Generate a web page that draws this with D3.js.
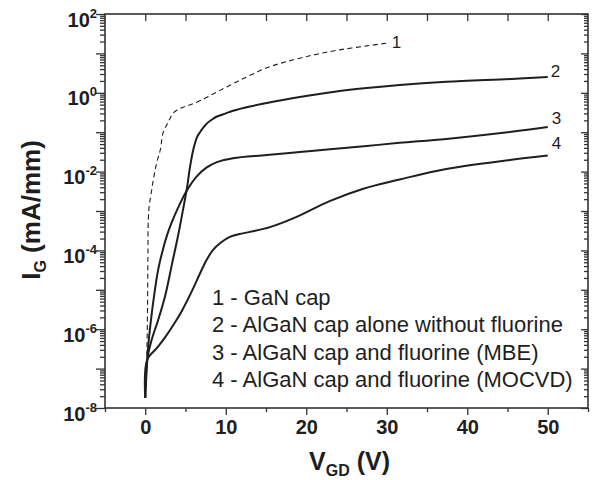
<!DOCTYPE html>
<html>
<head>
<meta charset="utf-8">
<script src="https://cdnjs.cloudflare.com/ajax/libs/d3/7.8.5/d3.min.js"></script>
<style>
body { margin: 0; background: #fff; }
svg { display: block; font-family: "Liberation Sans", Arial, sans-serif; }
</style>
</head>
<body>
<div id="chart"></div>
<script>
// Gate leakage curves: V_GD in volts, I_G in mA/mm.
const vgd1 = [0, 0.1, 0.2, 0.28, 0.33, 0.38, 0.5, 0.7, 1.0, 1.4, 1.9, 2.2, 2.85, 3.5, 4.0, 4.7, 5.6, 6.8, 8.9, 11.8, 15.1, 18.3, 21.3, 24.1, 27.5, 30];
const ig1 = [1.8e-8, 6.3e-8, 2.5e-7, 3.2e-6, 6.3e-5, 6.3e-4, 1.4e-3, 2.5e-3, 6.2e-3, 0.016, 0.038, 0.095, 0.18, 0.31, 0.37, 0.43, 0.5, 0.63, 1.05, 2.1, 4.3, 6.8, 9.5, 12.3, 15.5, 18.2];

const vgd2 = [0, 0.25, 0.8, 1.6, 2.5, 3.3, 4.1, 4.7, 5.2, 5.5, 5.95, 6.45, 6.8, 7.2, 7.7, 8.3, 8.9, 10, 10.9, 13, 15.1, 19.2, 23.3, 27.5, 31.6, 37.4, 45.5, 50];
const ig2 = [1.8e-8, 1.7e-7, 5.4e-7, 1.7e-6, 7.4e-6, 4.3e-5, 2.5e-4, 1.1e-3, 4.0e-3, 0.011, 0.035, 0.076, 0.1, 0.13, 0.17, 0.21, 0.25, 0.30, 0.35, 0.45, 0.55, 0.78, 1.05, 1.32, 1.58, 1.9, 2.24, 2.5];

const vgd3 = [0, 0.25, 0.45, 0.75, 1.1, 1.6, 2.1, 2.7, 3.3, 4.0, 5.2, 6.4, 7.6, 8.9, 10.9, 15.1, 19.2, 23.3, 27.5, 31.6, 37.4, 45.5, 50];
const ig3 = [1.8e-8, 1.7e-7, 5.6e-7, 2.0e-6, 7.1e-6, 3.2e-5, 8.9e-5, 2.4e-4, 5.2e-4, 1.12e-3, 3.4e-3, 7.6e-3, 0.0126, 0.0174, 0.0219, 0.0263, 0.0316, 0.0372, 0.0447, 0.0537, 0.0676, 0.102, 0.135];

const vgd4 = [0, 0.25, 1.49, 2.48, 3.47, 4.58, 5.82, 6.8, 7.6, 8.4, 9.4, 10.5, 11.7, 13.0, 15.5, 18.8, 22.9, 27.0, 31.6, 37.4, 45.5, 50];
const ig4 = [1.8e-8, 1.7e-7, 3.4e-7, 6.3e-7, 1.26e-6, 3.0e-6, 9.5e-6, 2.6e-5, 5.6e-5, 1.02e-4, 1.58e-4, 2.2e-4, 2.6e-4, 2.95e-4, 3.9e-4, 7.1e-4, 1.78e-3, 3.63e-3, 6.3e-3, 0.0117, 0.02, 0.0257];

const curveNames = ["1", "2", "3", "4"];
const legendItems = [
    "1 - GaN cap",
    "2 - AlGaN cap alone without fluorine",
    "3 - AlGaN cap and fluorine (MBE)",
    "4 - AlGaN cap and fluorine (MOCVD)"
];
const xTicks = [0, 10, 20, 30, 40, 50];
const xMinorTicks = [-5, 5, 15, 25, 35, 45, 55];
const yLabelExponents = [2, 0, -2, -4, -6, -8];

let width = 596, height = 480;
let inkColor = "#1e1e1e";
let axisColor = "#333";

let x = d3.scaleLinear().domain([-5, 55]).range([105, 588]);
let y = d3.scaleLog().domain([1e-8, 1e2]).range([408, 14]);

let decades = d3.range(-8, 3).map(e => Math.pow(10, e));
let minorDecadeTicks = [];
d3.range(-8, 2).forEach(function(e) {
    for (let k = 2; k <= 9; k++) minorDecadeTicks.push(k * Math.pow(10, e));
});

let svg = d3.select("#chart")
    .append("svg")
    .attr("width", width)
    .attr("height", height);

/**
 * Strip the domain line and give the tick marks the frame colour.
 */
function styleTicks(g) {
    g.select(".domain").remove();
    g.selectAll(".tick line")
        .attr("stroke", axisColor)
        .attr("stroke-width", 1.3);
}

// Bottom axis, labelled, ticks pointing out.
let xAxisG = svg.append("g")
    .attr("transform", "translate(0," + y.range()[0] + ")")
    .call(d3.axisBottom(x).tickValues(xTicks).tickSize(7))
    .call(styleTicks);
xAxisG.selectAll(".tick text")
    .attr("y", 26)
    .attr("dy", null)
    .attr("fill", inkColor)
    .style("font-size", "20px")
    .style("font-weight", "bold")
    .style("font-family", "'Liberation Sans', Arial, sans-serif");
svg.append("g")
    .attr("transform", "translate(0," + y.range()[0] + ")")
    .call(d3.axisBottom(x).tickValues(xMinorTicks).tickSize(4).tickFormat(""))
    .call(styleTicks);

// Top axis mirrors the ticks, pointing in.
svg.append("g")
    .attr("transform", "translate(0," + y.range()[1] + ")")
    .call(d3.axisTop(x).tickValues(xTicks.concat(xMinorTicks.slice(1, -1))).tickSize(-7).tickFormat(""))
    .call(styleTicks);

// Left axis: decade ticks out, labels on every other decade.
let yAxisG = svg.append("g")
    .attr("transform", "translate(" + x.range()[0] + ",0)")
    .call(d3.axisLeft(y).tickValues(decades).tickSize(9).tickFormat(""))
    .call(styleTicks);
svg.append("g")
    .attr("transform", "translate(" + x.range()[0] + ",0)")
    .call(d3.axisLeft(y).tickValues(minorDecadeTicks).tickSize(5).tickFormat(""))
    .call(styleTicks);

yAxisG.selectAll(".tick")
    .filter(d => yLabelExponents.includes(Math.round(Math.log10(d))))
    .append("text")
    .attr("x", -8)
    .attr("y", 12)
    .attr("text-anchor", "end")
    .attr("fill", inkColor)
    .style("font-weight", "bold")
    .style("font-size", "20px")
    .style("font-family", "'Liberation Sans', Arial, sans-serif")
    .each(function(d) {
        let t = d3.select(this);
        t.append("tspan").text("10");
        t.append("tspan")
            .attr("dy", -9)
            .style("font-size", "13px")
            .text(Math.round(Math.log10(d)));
    });

// Right axis mirrors the left, pointing in.
svg.append("g")
    .attr("transform", "translate(" + x.range()[1] + ",0)")
    .call(d3.axisRight(y).tickValues(decades).tickSize(-7).tickFormat(""))
    .call(styleTicks);
svg.append("g")
    .attr("transform", "translate(" + x.range()[1] + ",0)")
    .call(d3.axisRight(y).tickValues(minorDecadeTicks).tickSize(-4).tickFormat(""))
    .call(styleTicks);

// Frame
svg.append("rect")
    .attr("x", x.range()[0])
    .attr("y", y.range()[1])
    .attr("width", x.range()[1] - x.range()[0])
    .attr("height", y.range()[0] - y.range()[1])
    .attr("fill", "none")
    .attr("stroke", axisColor)
    .attr("stroke-width", 1.6);

// Curves
let line = d3.line()
    .x(d => x(d[0]))
    .y(d => y(d[1]))
    .curve(d3.curveCatmullRom.alpha(0.5));

let series = [
    {data: d3.zip(vgd1, ig1), dashed: true,  dx: 5, dy: 5},
    {data: d3.zip(vgd2, ig2), dashed: false, dx: 3, dy: 0},
    {data: d3.zip(vgd3, ig3), dashed: false, dx: 4, dy: -3},
    {data: d3.zip(vgd4, ig4), dashed: false, dx: 4, dy: -6}
];

series.forEach(function(s, i) {
    svg.append("path")
        .attr("d", line(s.data))
        .attr("fill", "none")
        .attr("stroke", inkColor)
        .attr("stroke-width", s.dashed ? 1.1 : 2)
        .attr("stroke-dasharray", s.dashed ? "5,3.5" : null)
        .attr("stroke-linejoin", "round");

    let last = s.data[s.data.length - 1];
    svg.append("text")
        .attr("x", x(last[0]) + s.dx)
        .attr("y", y(last[1]) + s.dy)
        .attr("fill", inkColor)
        .style("font-size", "17px")
        .text(curveNames[i]);
});

// Legend
svg.append("g")
    .selectAll("text")
    .data(legendItems)
    .enter()
    .append("text")
        .attr("x", 212)
        .attr("y", (d, i) => 305 + i * 27.3)
        .attr("fill", inkColor)
        .style("font-size", "22px")
        .text(d => d);

// Axis titles
let xTitle = svg.append("text")
    .attr("x", (x.range()[0] + x.range()[1]) / 2 + 3)
    .attr("y", 470)
    .attr("text-anchor", "middle")
    .attr("fill", inkColor)
    .style("font-size", "25px")
    .style("font-weight", "bold");
xTitle.append("tspan").text("V");
xTitle.append("tspan").attr("dy", 6).style("font-size", "16px").text("GD");
xTitle.append("tspan").attr("dy", -6).text(" (V)");

let yTitle = svg.append("text")
    .attr("transform", "translate(40,210) rotate(-90)")
    .attr("text-anchor", "middle")
    .attr("fill", inkColor)
    .style("font-size", "26px")
    .style("font-weight", "bold");
yTitle.append("tspan").text("I");
yTitle.append("tspan").attr("dy", 6).style("font-size", "16px").text("G");
yTitle.append("tspan").attr("dy", -6).text(" (mA/mm)");
</script>
</body>
</html>
